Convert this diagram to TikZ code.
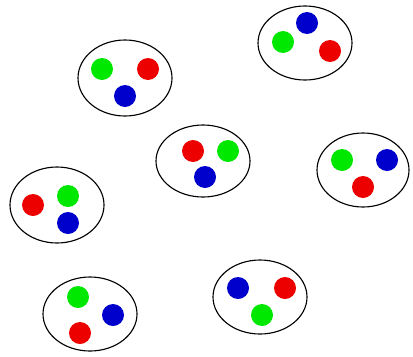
\documentclass[tikz,border=0pt]{standalone}
\usepackage{tikz}
\definecolor{DotRed}{RGB}{236, 0, 0}
\definecolor{DotGreen}{RGB}{0, 232, 0}
\definecolor{DotBlue}{RGB}{0, 0, 205}

\begin{document}
\begin{tikzpicture}[x=0.025cm, y=-0.025cm,
    cell/.style={draw=black, line width=0.8pt, fill=white},
    dot/.style={draw=none}]
                    \useasboundingbox (0,0) rectangle (413,356);

                    % top left
                    \draw[cell] (125,78) ellipse (47 and 38);
                    \fill[DotGreen] (102,69) circle (11);
                    \fill[DotRed] (148,69) circle (11);
                    \fill[DotBlue] (125,96) circle (11);

                    % top right
                    \draw[cell] (305,43) ellipse (47 and 37);
                    \fill[DotBlue] (307,23) circle (11);
                    \fill[DotGreen] (283,42) circle (11);
                    \fill[DotRed] (330,51) circle (11);

                    % centre
                    \draw[cell] (203,161) ellipse (47 and 36);
                    \fill[DotRed] (193,151) circle (11);
                    \fill[DotGreen] (228,151) circle (11);
                    \fill[DotBlue] (205,177) circle (11);

                    % left
                    \draw[cell] (57,205) ellipse (47 and 38);
                    \fill[DotRed] (33,205) circle (11);
                    \fill[DotGreen] (68,196) circle (11);
                    \fill[DotBlue] (68,223) circle (11);

                    % right
                    \draw[cell] (363,170) ellipse (46 and 37);
                    \fill[DotGreen] (342,160) circle (11);
                    \fill[DotBlue] (387,160) circle (11);
                    \fill[DotRed] (363,187) circle (11);

                    % bottom left
                    \draw[cell] (90,314) ellipse (47 and 37);
                    \fill[DotGreen] (78,297) circle (11);
                    \fill[DotBlue] (113,315) circle (11);
                    \fill[DotRed] (80,333) circle (11);

                    % bottom right
                    \draw[cell] (260,297) ellipse (47 and 37);
                    \fill[DotBlue] (238,288) circle (11);
                    \fill[DotRed] (285,288) circle (11);
                    \fill[DotGreen] (262,315) circle (11);
\end{tikzpicture}
\end{document}
